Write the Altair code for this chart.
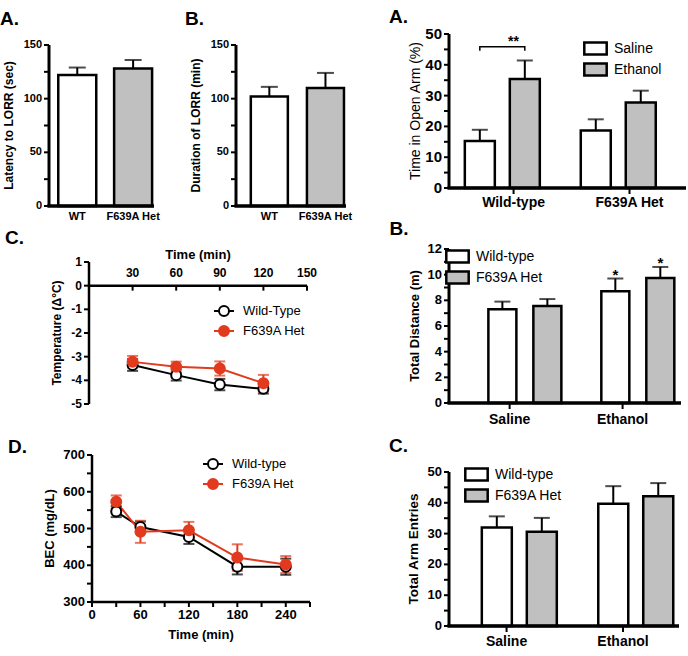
import altair as alt
import pandas as pd

FONT = "Liberation Sans"
RED = "#e23a1e"
GRAY = "#c0c0c0"

# ---- Loss of righting reflex ----
lorr_groups = ["WT", "F639A Het"]
latency_mean = [122, 128]
latency_sem = [7, 8]
duration_mean = [102, 110]
duration_sem = [9, 14]

# ---- Body temperature change ----
temp_labels = ["Wild-Type", "F639A Het"]
temp_time = [30, 60, 90, 120]
temp_wt = [-3.35, -3.78, -4.18, -4.36]
temp_wt_sem = [0.25, 0.23, 0.24, 0.20]
temp_het = [-3.22, -3.43, -3.50, -4.12]
temp_het_sem = [0.25, 0.22, 0.30, 0.35]

# ---- Blood ethanol concentration ----
bec_labels = ["Wild-type", "F639A Het"]
bec_time = [30, 60, 120, 180, 240]
bec_wt = [546, 504, 477, 396, 396]
bec_wt_sem = [15, 15, 19, 21, 22]
bec_het = [573, 491, 495, 421, 402]
bec_het_sem = [17, 30, 23, 36, 23]

# ---- Elevated plus maze ----
genotypes = ["Wild-type", "F639A Het"]
treatments = ["Saline", "Ethanol"]
open_arm_saline = [15.3, 18.7]
open_arm_saline_sem = [3.6, 3.6]
open_arm_ethanol = [35.4, 27.8]
open_arm_ethanol_sem = [6.0, 3.8]
bracket_levels = [44.6, 45.9, 45.9, 44.6]

distance_wt = [7.3, 8.7]
distance_wt_sem = [0.6, 1.0]
distance_het = [7.55, 9.75]
distance_het_sem = [0.55, 0.85]
distance_marks = ["", "*"]

entries_wt = [32.0, 39.7]
entries_wt_sem = [3.6, 5.7]
entries_het = [30.6, 42.1]
entries_het_sem = [4.5, 4.3]

BOX = "M-1.4,-0.75H1.4V0.75H-1.4Z"
CHANNELS = dict(fill="independent", stroke="independent", color="independent")


def independent(chart):
    return chart.resolve_scale(**CHANNELS).resolve_legend(**CHANNELS)


def stack(*charts, spacing):
    return independent(alt.vconcat(*charts, spacing=spacing))


def letter(text, dx=0, offset=8):
    return alt.TitleParams(text=text, anchor="start", frame="bounds", font=FONT,
                           fontSize=19, fontWeight="bold", color="black", dx=dx,
                           offset=offset)


def fmt(v):
    return str(int(v)) if float(v).is_integer() else str(v)


def marked(v, every):
    q = v / every
    return abs(q - round(q)) < 1e-9


def txt(**kw):
    base = dict(font=FONT, color="black", fontWeight="bold")
    base.update(kw)
    return base


# ---------- hand-drawn axes (domain line, ticks, labels, title) ----------
def y_axis_layers(ys, ticks, every, height, title, title_off, label_size, title_size,
                  title_weight="bold", tick_len=5, domain_w=3, x0=0, y_top=0):
    tdf = pd.DataFrame({"v": ticks, "lab": [fmt(v) if marked(v, every) else "" for v in ticks]})
    one = pd.DataFrame({"t": [title]})
    line = alt.Chart(one).mark_rule(color="black", strokeWidth=domain_w).encode(
        x=alt.value(x0), y=alt.value(y_top), y2=alt.value(y_top + height))
    tk = alt.Chart(tdf).mark_rule(color="black", strokeWidth=2).encode(
        y=alt.Y("v:Q", scale=ys, axis=None), x=alt.value(x0 - tick_len), x2=alt.value(x0))
    lab = alt.Chart(tdf).mark_text(**txt(align="right", baseline="middle",
                                         fontSize=label_size)).encode(
        y=alt.Y("v:Q", scale=ys, axis=None), x=alt.value(x0 - tick_len - 2), text="lab:N")
    ttl = alt.Chart(one).mark_text(**txt(angle=270, align="center", baseline="middle",
                                         fontSize=title_size, fontWeight=title_weight)).encode(
        x=alt.value(x0 - title_off), y=alt.value(y_top + height / 2), text="t:N")
    return [line, tk, lab, ttl]


def band_x_axis_layers(cats, xs, width, base_y, label_size, lab_off, ticks=True):
    cdf = pd.DataFrame({"cat": cats})
    x = alt.X("cat:N", sort=cats, scale=xs, axis=None)
    line = alt.Chart(cdf).mark_rule(color="black", strokeWidth=3).encode(
        x=alt.value(-1.5), x2=alt.value(width), y=alt.value(base_y))
    lab = alt.Chart(cdf).mark_text(**txt(baseline="top", fontSize=label_size)).encode(
        x=x, y=alt.value(base_y + lab_off), text="cat:N")
    out = [line, lab]
    if ticks:
        out.append(alt.Chart(cdf).mark_rule(color="black", strokeWidth=2).encode(
            x=x, y=alt.value(base_y), y2=alt.value(base_y + 6)))
    return out


# ---------- bar panels ----------
def lorr_panel(tag, y_title, means, sems, width, p_inner, p_outer, align, dx, offset,
               inset=11):
    height = 161
    df = pd.DataFrame({"group": lorr_groups, "mean": means, "sem": sems})
    df["top"] = df["mean"] + df["sem"]
    base = alt.Chart(df)
    xs = alt.Scale(domain=lorr_groups, paddingInner=p_inner, paddingOuter=p_outer, align=align)
    # plotting area sits `inset` pixels below the top of the view
    ys = alt.Scale(domain=[0, 150], nice=False, range=[inset + height, inset])
    x = alt.X("group:N", sort=lorr_groups, scale=xs, axis=None)
    bars = base.mark_bar(stroke="black", strokeWidth=2.5).encode(
        x=x, y=alt.Y("mean:Q", scale=ys, axis=None),
        fill=alt.Fill("group:N", scale=alt.Scale(domain=lorr_groups, range=["white", GRAY]),
                      legend=None))
    err = base.mark_rule(color="black", strokeWidth=2).encode(
        x=x, y=alt.Y("mean:Q", scale=ys, axis=None), y2="top:Q")
    cap = base.mark_tick(color="black", thickness=2, size=17).encode(
        x=x, y=alt.Y("top:Q", scale=ys, axis=None))
    layers = [err, cap, bars]
    layers += y_axis_layers(ys, list(range(0, 151, 25)), 50, height, y_title, 40, 11, 12,
                            y_top=inset)
    layers += band_x_axis_layers(lorr_groups, xs, width, inset + height, 11, 5, ticks=False)
    return alt.layer(*layers).properties(width=width, height=height + inset,
                                         title=letter(tag, dx=dx, offset=offset))


def grouped_panel(tag, y_title, cats, groups, means, sems, domain, tick_step, label_step,
                  width, p_inner, p_outer, align, bar_w, legend_xy, row_pad, dx, offset,
                  title_off, tick_font=13, title_font=13, title_weight="bold",
                  lab_off=9, marks=None, bracket=None):
    height = 154
    rows = []
    for gi, g in enumerate(groups):
        for ci, c in enumerate(cats):
            rows.append({"cat": c, "grp": g, "mean": means[gi][ci], "sem": sems[gi][ci],
                         "mark": marks[gi][ci] if marks else ""})
    df = pd.DataFrame(rows)
    df["top"] = df["mean"] + df["sem"]
    base = alt.Chart(df)
    xs = alt.Scale(paddingInner=p_inner, paddingOuter=p_outer, align=align)
    os_ = alt.Scale(paddingInner=0.3, paddingOuter=0.15)
    ys = alt.Scale(domain=domain, nice=False)
    x = alt.X("cat:N", sort=cats, scale=xs, axis=None)
    xo = alt.XOffset("grp:N", sort=groups, scale=os_)
    bars = base.mark_bar(stroke="black", strokeWidth=2.5, width=bar_w).encode(
        x=x, xOffset=xo, y=alt.Y("mean:Q", scale=ys, axis=None),
        fill=alt.Fill("grp:N", sort=groups,
                      scale=alt.Scale(domain=groups, range=["white", GRAY]),
                      legend=alt.Legend(orient="none", legendX=legend_xy[0],
                                        legendY=legend_xy[1], title=None,
                                        symbolType=BOX, symbolSize=256,
                                        symbolStrokeColor="black", symbolStrokeWidth=2.5,
                                        labelFont=FONT, labelFontSize=14,
                                        labelColor="black", labelOffset=9,
                                        rowPadding=row_pad)))
    err = base.mark_rule(color="black", strokeWidth=2).encode(
        x=x, xOffset=xo, y=alt.Y("mean:Q", scale=ys, axis=None), y2="top:Q")
    cap = base.mark_tick(color="black", thickness=2, size=16).encode(
        x=x, xOffset=xo, y=alt.Y("top:Q", scale=ys, axis=None))
    layers = [err, cap, bars]
    if marks:
        layers.append(base.mark_text(**txt(fontSize=15, baseline="alphabetic", dy=1)).encode(
            x=x, xOffset=xo, y=alt.Y("top:Q", scale=ys, axis=None), text="mark:N"))
    if bracket is not None:
        bdf = pd.DataFrame({"cat": [cats[0]] * 4,
                            "grp": [groups[0], groups[0], groups[1], groups[1]],
                            "level": bracket, "k": [0, 1, 2, 3]})
        layers.append(alt.Chart(bdf).mark_line(color="black", strokeWidth=1.5).encode(
            x=x, xOffset=xo, y=alt.Y("level:Q", scale=ys, axis=None), order="k:Q"))
        sdf = pd.DataFrame({"cat": [cats[0]], "level": [max(bracket)], "txt": ["**"]})
        layers.append(alt.Chart(sdf).mark_text(**txt(fontSize=14, baseline="alphabetic",
                                                     dy=-1)).encode(
            x=x, y=alt.Y("level:Q", scale=ys, axis=None), text="txt:N"))
    n = int(round(domain[1] / tick_step))
    ticks = [round(i * tick_step, 6) for i in range(n + 1)]
    layers += y_axis_layers(ys, ticks, label_step, height, y_title, title_off, tick_font,
                            title_font, title_weight=title_weight)
    layers += band_x_axis_layers(cats, xs, width, height, 14, lab_off)
    return alt.layer(*layers).properties(width=width, height=height,
                                         title=letter(tag, dx=dx, offset=offset))


# ---------- time-course panels ----------
def time_panel(tag, labels, times, wt, wt_sem, het, het_sem, x_dom, y_dom, x_ticks, x_every,
               y_ticks, y_every, y_title, width, height, legend_xy, dx, offset, title_off,
               label_font, title_font, x0, top_axis=False):
    rows = []
    for name, vals, sems in [(labels[0], wt, wt_sem), (labels[1], het, het_sem)]:
        for t, v, s in zip(times, vals, sems):
            rows.append({"time": t, "genotype": name, "mean": v, "lo": v - s, "hi": v + s})
    df = pd.DataFrame(rows)
    base = alt.Chart(df)
    # the plotting area starts x0 pixels in from the view's left edge
    xs = alt.Scale(domain=x_dom, nice=False, zero=False, range=[x0, x0 + width])
    ys = alt.Scale(domain=y_dom, nice=False, zero=False)
    col = alt.Scale(domain=labels, range=["black", RED])
    fil = alt.Scale(domain=labels, range=["white", RED])
    x = alt.X("time:Q", scale=xs, axis=None)
    line = base.mark_line(strokeWidth=2).encode(
        x=x, y=alt.Y("mean:Q", scale=ys, axis=None),
        stroke=alt.Stroke("genotype:N", scale=col, legend=None))
    err = base.mark_rule(strokeWidth=2).encode(
        x=x, y=alt.Y("lo:Q", scale=ys, axis=None), y2="hi:Q",
        stroke=alt.Stroke("genotype:N", scale=col, legend=None))
    caps = [base.mark_tick(orient="horizontal", thickness=2, size=11).encode(
        x=x, y=alt.Y(f"{k}:Q", scale=ys, axis=None),
        color=alt.Color("genotype:N", scale=col, legend=None)) for k in ("lo", "hi")]
    pts = base.mark_point(shape="circle", filled=True, size=100, strokeWidth=2,
                          opacity=1).encode(
        x=x, y=alt.Y("mean:Q", scale=ys, axis=None),
        stroke=alt.Stroke("genotype:N", scale=col, legend=None),
        fill=alt.Fill("genotype:N", scale=fil, legend=None))
    layers = [line, err] + caps + [pts]

    # legend: a short line through a marker, then the label
    lx, ly = legend_xy
    lx += x0
    for i, (name, stroke, fill) in enumerate(zip(labels, ["black", RED], ["white", RED])):
        one = pd.DataFrame({"t": [name]})
        yy = ly + i * 20
        layers.append(alt.Chart(one).mark_rule(color=stroke, strokeWidth=2).encode(
            x=alt.value(lx), x2=alt.value(lx + 20), y=alt.value(yy)))
        layers.append(alt.Chart(one).mark_point(shape="circle", filled=True, size=100,
                                                strokeWidth=2, stroke=stroke, fill=fill,
                                                opacity=1).encode(
            x=alt.value(lx + 10), y=alt.value(yy)))
        layers.append(alt.Chart(one).mark_text(**txt(fontWeight="normal", fontSize=13,
                                                     align="left", baseline="middle")).encode(
            x=alt.value(lx + 29), y=alt.value(yy), text="t:N"))

    # y axis
    layers += y_axis_layers(ys, y_ticks, y_every, height, y_title, title_off, label_font,
                            title_font, domain_w=2.5, x0=x0)
    # x axis
    tdf = pd.DataFrame({"v": x_ticks,
                        "lab": [fmt(v) if marked(v, x_every) else "" for v in x_ticks]})
    one = pd.DataFrame({"t": ["Time (min)"]})
    if top_axis:
        y0 = height * y_dom[1] / (y_dom[1] - y_dom[0])
        tick_y, tick_y2, lab_y, lab_base, ttl_y, ttl_base = y0, y0 + 5, y0 - 6, "bottom", y0 - 24, "bottom"
    else:
        y0 = height
        tick_y, tick_y2, lab_y, lab_base, ttl_y, ttl_base = y0, y0 + 5, y0 + 7, "top", y0 + 27, "top"
    layers.append(alt.Chart(one).mark_rule(color="black", strokeWidth=2.5).encode(
        x=alt.value(x0 - 1.25), x2=alt.value(x0 + width), y=alt.value(y0)))
    layers.append(alt.Chart(tdf).mark_rule(color="black", strokeWidth=2).encode(
        x=alt.X("v:Q", scale=xs, axis=None), y=alt.value(tick_y), y2=alt.value(tick_y2)))
    layers.append(alt.Chart(tdf).mark_text(**txt(fontSize=label_font, baseline=lab_base)).encode(
        x=alt.X("v:Q", scale=xs, axis=None), y=alt.value(lab_y), text="lab:N"))
    layers.append(alt.Chart(one).mark_text(**txt(fontSize=13, baseline=ttl_base)).encode(
        x=alt.value(x0 + width / 2), y=alt.value(ttl_y), text="t:N"))
    return alt.layer(*layers).properties(width=width + x0, height=height,
                                         title=letter(tag, dx=dx, offset=offset))


panel_a = lorr_panel("A.", "Latency to LORR (sec)", latency_mean, latency_sem,
                     105, 0.32, 0.1, 0.83, -3, 5)
panel_b = lorr_panel("B.", "Duration of LORR (min)", duration_mean, duration_sem,
                     110, 0.34, 0.15, 0.88, -5, 5)

panel_c = time_panel("C.", temp_labels, temp_time, temp_wt, temp_wt_sem, temp_het,
                     temp_het_sem, [0, 150], [-5, 1], [30, 60, 90, 120, 150], 30,
                     [-5, -4, -3, -2, -1, 0, 1], 1, "Temperature (\u0394\u00b0C)",
                     218, 142, (125, 49), -44, 1, 32, 12, 12, 40, top_axis=True)
panel_d = time_panel("D.", bec_labels, bec_time, bec_wt, bec_wt_sem, bec_het, bec_het_sem,
                     [0, 270], [300, 700], list(range(0, 271, 30)), 60,
                     list(range(300, 701, 50)), 100, "BEC (mg/dL)", 218, 147, (111, 9),
                     -36, -8, 42, 13, 13, 43)

panel_ra = grouped_panel("A.", "Time in Open Arm (%)", genotypes, treatments,
                         [open_arm_saline, open_arm_ethanol],
                         [open_arm_saline_sem, open_arm_ethanol_sem],
                         [0, 50], 5, 10, 237, 0.224, 0.134, 0.63, 30, (137, 5), -7.5,
                         -20, 0, 33, tick_font=15, title_font=14, title_weight="normal",
                         lab_off=8, bracket=bracket_levels)
panel_rb = grouped_panel("B.", "Total Distance (m)", treatments, genotypes,
                         [distance_wt, distance_het], [distance_wt_sem, distance_het_sem],
                         [0, 12], 1, 2, 232, 0.274, 0.164, 0.53, 28, (-1, -2), -2.5,
                         -19.5, 4, 34, tick_font=13, title_font=13, lab_off=10,
                         marks=[distance_marks, distance_marks])
panel_rc = grouped_panel("C.", "Total Arm Entries", treatments, genotypes,
                         [entries_wt, entries_het], [entries_wt_sem, entries_het_sem],
                         [0, 50], 5, 10, 230, 0.253, 0.114, 0.53, 30, (18, -7), -2.5,
                         -18, 9, 35, tick_font=13, title_font=13.5, lab_off=9)

top_row = independent(alt.hconcat(panel_a, panel_b, spacing=24))
left = stack(top_row, stack(panel_c, panel_d, spacing=28), spacing=6)
right = stack(panel_ra, stack(panel_rb, panel_rc, spacing=10), spacing=10)

chart = independent(alt.hconcat(left, right, spacing=36)).properties(
    padding={"left": 0, "top": 8, "right": 0, "bottom": 0}
).configure_view(stroke=None)

chart.save("out.html", embed_options={"renderer": "svg", "actions": False})
